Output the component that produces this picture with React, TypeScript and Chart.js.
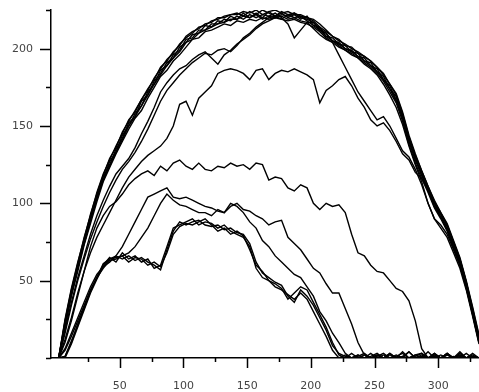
import { useEffect, useRef } from "react";
import { Chart, registerables } from "chart.js";

Chart.register(...registerables);

const xs = [2,7,12,17,22,27,32,37,42,47, 52,57,62,67,72,77,82,87,92,97, 102,107,112,117,122,127,132,137,142,147, 152,157,162,167,172,177,182,187,192,197, 202,207,212,217,222,227,232,237,242,247, 252,257,262,267,272,277,282,287,292,297, 302,307,312,317,322,327,332];

const U1 = [0,25,45,62,77,93,106,118,129,136, 146,153,160,167,173,181,187,193,197,203, 207,210,214,215,218,219,221,222,223,221, 224,222,225,223,221,224,222,223,221,220, 218,214,211,208,205,203,200,198,195,192, 188,183,177,170,158,143,131,121,111,101, 94,86,75,64,49,32,14];
const U2 = [0,20,40,56,73,87,101,114,123,132, 140,148,155,160,168,175,182,186,192,196, 201,206,207,211,212,214,216,215,218,217, 219,218,220,219,220,219,218,219,217,216, 214,211,207,204,201,199,196,194,191,188, 184,179,172,165,153,138,126,116,107,97, 90,82,71,60,45,28,10];
const U3 = [0,23,43,58,76,91,103,117,125,135, 142,152,156,166,170,179,184,191,194,201, 204,209,210,215,214,218,217,221,219,223, 220,223,220,224,221,223,220,222,219,221, 215,214,208,207,203,202,198,197,192,191, 185,182,174,169,155,142,128,120,108,100, 91,85,72,63,46,31,11];
const U4 = [0,21,41,60,74,89,105,115,127,133, 144,150,158,163,172,177,186,189,196,199, 206,207,212,212,216,216,219,218,221,219, 222,220,222,221,223,220,216,207,212,217, 217,212,210,205,204,200,199,195,194,189, 187,180,176,167,157,140,130,118,110,98, 93,83,74,61,48,29,13];
const U5 = [0,24,44,61,78,92,107,119,128,137, 145,154,159,167,174,180,188,192,198,202, 208,211,213,216,217,220,220,222,222,224, 223,225,222,224,225,223,224,222,222,220, 219,216,212,208,206,202,201,197,195,192, 188,184,177,171,159,144,132,121,111,102, 94,87,76,65,50,33,15];
const U6 = [0,22,41,58,74,89,103,115,124,133, 141,150,156,163,170,177,183,189,194,198, 204,206,210,212,214,216,217,219,219,221, 220,222,219,221,220,221,219,220,218,217, 213,209,206,204,196,188,180,172,166,160, 154,156,150,142,134,130,122,112,100,90, 84,78,68,58,44,27,9];
const G1 = [0,18,36,52,66,80,92,102,111,119, 124,129,136,145,153,162,172,178,183,187, 189,193,196,198,194,190,196,199,203,206, 209,213,216,218,220,222,221,223,220,219, 217,213,210,205,203,200,198,195,192,189, 185,180,174,166,155,140,128,118,108,98, 91,83,72,61,46,29,11];
const G2 = [0,16,34,50,64,77,88,98,107,115, 122,127,133,140,148,157,166,173,178,183, 187,191,194,197,196,199,200,198,202,207, 210,214,217,220,221,219,222,220,221,218, 215,212,208,205,202,199,197,194,190,187, 183,177,170,162,151,137,125,114,100,90, 86,80,70,60,46,28,10];
const E = [0,12,26,42,56,68,78,86,94,102, 110,117,122,127,131,134,137,142,150,164, 166,157,168,172,176,184,186,187,186,184, 180,186,187,180,184,186,185,187,185,183, 180,165,173,176,180,182,176,168,162,154, 150,152,147,140,132,128,120,116,109,100, 93,86,75,64,49,31,12];
const B = [0,10,24,40,56,72,84,92,98,101, 106,112,116,119,121,118,124,121,126,128, 124,122,126,122,121,124,123,126,124,125, 122,126,125,115,117,116,110,108,112,110, 100,96,100,98,99,94,80,68,66,60, 56,55,50,45,43,37,24,6,0,2, 0,3,0,2,0,3,0];
const C1 = [0,6,16,26,36,46,54,59,62,66, 72,80,88,96,104,106,108,110,104,103, 104,102,100,98,97,95,94,98,100,96, 95,92,90,86,88,89,78,74,70,64, 58,55,48,42,42,32,22,10,2,0, 2,0,3,0,1,4,0,2,0,3, 0,2,0,4,0,1,0];
const C2 = [0,5,14,24,34,44,52,58,63,64, 66,68,72,78,84,92,100,106,102,99, 98,96,94,94,92,96,94,100,98,94, 88,84,76,72,66,62,58,54,52,46, 40,30,24,16,10,3,0,2,0,1, 3,0,2,0,4,0,1,3,0,2, 0,3,0,1,0,2,0];
const D1 = [0,1,10,22,32,43,52,60,65,62, 68,64,66,62,64,58,60,72,84,86, 88,90,86,88,87,84,86,82,80,78, 72,58,52,50,48,45,38,42,46,44, 36,28,20,10,2,0,3,0,2,0, 1,3,0,2,0,4,0,1,0,3, 0,2,0,3,0,1,0];
const D2 = [0,0,9,20,31,42,51,59,64,66, 64,66,63,65,62,60,57,70,82,88, 86,88,89,86,85,86,83,84,81,80, 74,62,55,52,49,47,40,36,44,40, 34,26,18,8,3,1,0,2,0,3, 0,2,0,1,3,0,2,0,4,0, 2,0,1,0,3,0,0];
const D3 = [0,1,11,21,33,44,52,61,64,65, 66,62,65,64,60,62,59,68,80,85, 87,86,88,90,86,82,84,80,82,79, 70,60,56,50,46,44,41,38,42,38, 30,22,14,5,0,2,0,1,3,0, 2,0,3,0,1,0,2,3,0,1, 0,3,0,2,0,1,0];

const seriesList = [U1, U2, U3, U4, U5, U6, G1, G2, E, B, C1, C2, D1, D2, D3];

const xTickLabels = [50, 100, 150, 200, 250, 300];
const yTickLabels = [50, 100, 150, 200];
const xTickMarks = [25, 50, 75, 100, 125, 150, 175, 200, 225, 250, 275, 300, 325];
const yTickMarks = [0, 25, 50, 75, 100, 125, 150, 175, 200, 225];

const tickPlugin = {
  id: "tickMarks",
  afterDraw(chart: any) {
    const { ctx, chartArea, scales } = chart;
    ctx.save();
    ctx.strokeStyle = "#000";
    ctx.lineWidth = 1.5;
    ctx.beginPath();
    for (const v of xTickMarks) {
      const px = Math.round(scales.x.getPixelForValue(v)) + 0.5;
      const len = xTickLabels.includes(v) ? 10 : 4;
      ctx.moveTo(px, chartArea.bottom);
      ctx.lineTo(px, chartArea.bottom + len);
    }
    for (const v of yTickMarks) {
      const py = Math.round(scales.y.getPixelForValue(v)) + 0.5;
      const len = yTickLabels.includes(v) ? 11 : 5;
      ctx.moveTo(chartArea.left, py);
      ctx.lineTo(chartArea.left - len, py);
    }
    ctx.stroke();
    ctx.restore();
  },
};

export default function App() {
  const ref = useRef<HTMLCanvasElement | null>(null);
  useEffect(() => {
    if (!ref.current) return;
    const chart = new Chart(ref.current, {
      type: "line",
      data: {
        datasets: seriesList.map((ys, k) => ({
          label: "s" + k,
          data: xs.map((x, i) => ({ x, y: ys[i] })),
          borderColor: "#000",
          borderWidth: 1.4,
          pointRadius: 0,
          tension: 0,
          fill: false,
        })),
      },
      options: {
        responsive: false,
        animation: false,
        layout: { padding: { top: 10, right: 0, left: 0, bottom: 0 } },
        plugins: { legend: { display: false }, tooltip: { enabled: false } },
        scales: {
          x: {
            type: "linear",
            min: -4,
            max: 332,
            afterBuildTicks: (s: any) => {
              s.ticks = xTickLabels.map((v) => ({ value: v }));
            },
            afterFit: (s: any) => {
              s.height = 34;
              s.paddingLeft = 0;
              s.paddingRight = 0;
            },
            grid: { display: false, drawTicks: false },
            border: { display: true, color: "#000", width: 1.5 },
            ticks: {
              color: "#444",
              font: { family: "DejaVu Sans", size: 11 },
              padding: 22,
              maxRotation: 0,
              autoSkip: false,
            },
          },
          y: {
            type: "linear",
            min: 0,
            max: 225,
            afterBuildTicks: (s: any) => {
              s.ticks = yTickLabels.map((v) => ({ value: v }));
            },
            afterFit: (s: any) => {
              s.width = 51;
              s.paddingTop = 0;
              s.paddingBottom = 0;
            },
            grid: { display: false, drawTicks: false },
            border: { display: true, color: "#000", width: 1.5 },
            ticks: {
              color: "#444",
              font: { family: "DejaVu Sans", size: 11 },
              padding: 18,
            },
          },
        },
      },
      plugins: [tickPlugin],
    });
    return () => chart.destroy();
  }, []);
  return (
    <div style={{ position: "absolute", left: 0, top: 0, width: 479, height: 392 }}>
      <canvas ref={ref} width={479} height={392} style={{ display: "block" }} />
    </div>
  );
}
